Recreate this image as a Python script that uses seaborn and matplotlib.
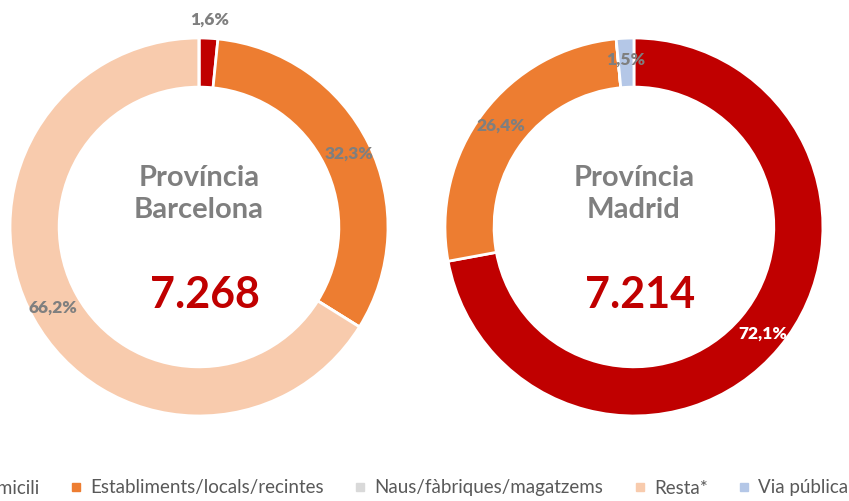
import numpy as np
import matplotlib.pyplot as plt
import seaborn as sns
from matplotlib.lines import Line2D

# Categories and shares (%) per province
categories = ['Domicili', 'Establiments/locals/recintes', 'Naus/fàbriques/magatzems',
              'Resta*', 'Via pública']
barcelona_pct = [1.6, 32.3, 0.0, 66.2, 0.0]
madrid_pct = [72.1, 26.4, 0.0, 0.0, 1.5]
barcelona_total = '7.268'
madrid_total = '7.214'

colors = ['#C00000', '#ED7D31', '#D9D9D9', '#F8CBAD', '#B4C7E7']

sns.set_theme(style='white')
plt.rcParams['font.family'] = ['Lato', 'DejaVu Sans']

fig = plt.figure(figsize=(8.49, 5.01), dpi=100)
ax_bcn = fig.add_axes([0.0118, 0.1697, 0.4452, 0.7545])
ax_mad = fig.add_axes([0.5241, 0.1697, 0.4452, 0.7545])


def donut(ax, values, title, total, label_style):
    wedges, _ = ax.pie(values, colors=colors, startangle=90, counterclock=False,
                       radius=1.0, wedgeprops=dict(width=0.26, edgecolor='white', linewidth=2))
    for w, v in zip(wedges, values):
        if v <= 0:
            continue
        ang = np.deg2rad((w.theta1 + w.theta2) / 2)
        r, col = label_style.get(v, (0.885, '#7F7F7F'))
        ax.text(r * np.cos(ang), r * np.sin(ang), f'{v:.1f}%'.replace('.', ','),
                ha='center', va='center', fontsize=12.5, fontweight='heavy', color=col)
    ax.text(0, 0.175, title, ha='center', va='center', fontsize=21,
            fontweight='bold', color='#7F7F7F', linespacing=1.3)
    ax.text(0.03, -0.36, total, ha='center', va='center', fontsize=31,
            fontweight='bold', color='#C00000')
    ax.set_xlim(-1, 1)
    ax.set_ylim(-1, 1)
    ax.set_aspect('equal')
    ax.axis('off')


donut(ax_bcn, barcelona_pct, 'Província\nBarcelona', barcelona_total,
      {1.6: (1.1, '#7F7F7F')})
donut(ax_mad, madrid_pct, 'Província\nMadrid', madrid_total,
      {72.1: (0.885, 'white')})

# legend runs past the left edge, as in the source image
handles = [Line2D([0], [0], marker='s', linestyle='', markersize=6,
                  markerfacecolor=c, markeredgecolor=c) for c in colors]
fig.legend(handles, categories, loc='center', ncol=5, frameon=False,
           bbox_to_anchor=(400 / 849, 13 / 501), fontsize=13.5,
           handlelength=0.7, handletextpad=0.4, columnspacing=1.6,
           labelcolor='#595959')

fig.savefig('out.png', dpi=100)
